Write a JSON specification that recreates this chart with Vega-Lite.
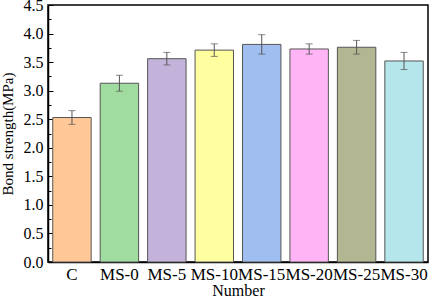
{
  "$schema": "https://vega.github.io/schema/vega-lite/v6.json",
  "width": 380,
  "height": 257,
  "autosize": {"type": "none"},
  "padding": {"left": 48, "top": 5, "right": 1, "bottom": 41},
  "config": {
    "font": "Liberation Serif",
    "view": {"stroke": "#000000", "strokeWidth": 1.5},
    "axis": {"grid": false, "domainColor": "#000000", "tickColor": "#000000", "labelColor": "#000000", "titleColor": "#000000", "labelFont": "Liberation Serif", "titleFont": "Liberation Serif", "titleFontWeight": "normal", "domainWidth": 1.5, "tickWidth": 1}
  },
  "data": {
    "values": [
      {"group": "C", "strength": 2.53, "lo": 2.41, "hi": 2.65},
      {"group": "MS-0", "strength": 3.13, "lo": 2.99, "hi": 3.27},
      {"group": "MS-5", "strength": 3.56, "lo": 3.45, "hi": 3.67},
      {"group": "MS-10", "strength": 3.71, "lo": 3.6, "hi": 3.82},
      {"group": "MS-15", "strength": 3.81, "lo": 3.64, "hi": 3.98},
      {"group": "MS-20", "strength": 3.73, "lo": 3.64, "hi": 3.82},
      {"group": "MS-25", "strength": 3.76, "lo": 3.64, "hi": 3.88},
      {"group": "MS-30", "strength": 3.52, "lo": 3.37, "hi": 3.67}
    ]
  },
  "encoding": {
    "x": {
      "field": "group", "type": "nominal", "sort": null,
      "scale": {"paddingInner": 0.19, "paddingOuter": 0.1},
      "axis": {"title": "Number", "labelAngle": 0, "labelFontSize": 17, "titleFontSize": 16, "tickSize": -5, "labelPadding": 9, "titlePadding": 0}
    }
  },
  "layer": [
    {
      "mark": {"type": "bar", "stroke": "#555555", "strokeWidth": 1},
      "encoding": {
        "y": {
          "field": "strength", "type": "quantitative",
          "scale": {"domain": [0, 4.5], "nice": false},
          "axis": {"title": "Bond strength(MPa)", "values": [0, 0.5, 1, 1.5, 2, 2.5, 3, 3.5, 4, 4.5], "format": ".1f", "labelFontSize": 16, "titleFontSize": 15, "tickSize": -5, "labelPadding": 10, "titlePadding": 8}
        },
        "color": {
          "field": "group", "type": "nominal", "sort": null, "legend": null,
          "scale": {
            "domain": ["C", "MS-0", "MS-5", "MS-10", "MS-15", "MS-20", "MS-25", "MS-30"],
            "range": ["#FFC896", "#A0DCA0", "#C3B3DB", "#FFFFA0", "#A0BEF0", "#FFB4F5", "#B2B691", "#B4E6EB"]
          }
        }
      }
    },
    {
      "mark": {"type": "rule", "color": "#555555", "strokeWidth": 1},
      "encoding": {
        "y": {
          "field": "lo", "type": "quantitative",
          "axis": {"orient": "left", "title": null, "labels": false, "domain": false, "tickSize": -3, "values": [0.25, 0.75, 1.25, 1.75, 2.25, 2.75, 3.25, 3.75, 4.25]}
        },
        "y2": {"field": "hi"}
      }
    },
    {
      "mark": {"type": "tick", "orient": "horizontal", "color": "#555555", "size": 7, "thickness": 1},
      "encoding": {"y": {"field": "lo", "type": "quantitative", "axis": null}}
    },
    {
      "mark": {"type": "tick", "orient": "horizontal", "color": "#555555", "size": 7, "thickness": 1},
      "encoding": {"y": {"field": "hi", "type": "quantitative", "axis": null}}
    }
  ],
  "resolve": {"axis": {"y": "independent"}}
}
